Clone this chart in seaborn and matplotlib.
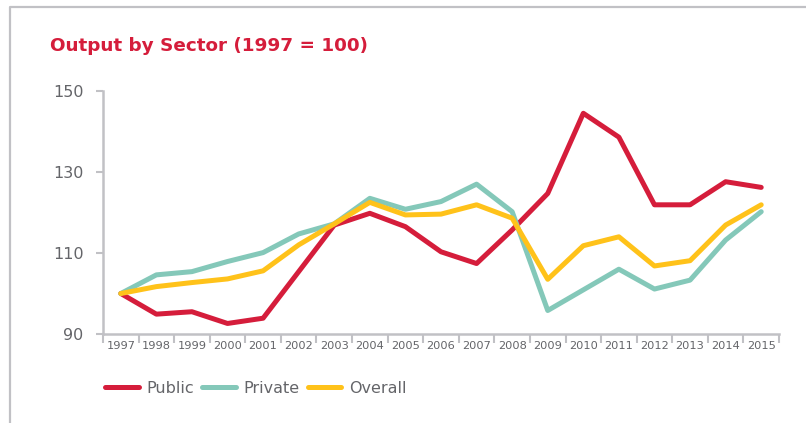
import numpy as np
import pandas as pd
import matplotlib
matplotlib.use("Agg")
import matplotlib.pyplot as plt
import seaborn as sns
from matplotlib.lines import Line2D
from matplotlib.ticker import FixedLocator, NullFormatter

# data (1997 = 100)
years = [1997, 1998, 1999, 2000, 2001, 2002, 2003, 2004, 2005, 2006,
         2007, 2008, 2009, 2010, 2011, 2012, 2013, 2014, 2015]
public = [100, 94.9, 95.5, 92.6, 93.9, 105.4, 116.9, 119.8, 116.5, 110.3,
          107.4, 115.7, 124.7, 144.5, 138.6, 121.9, 121.9, 127.6, 126.2]
private = [100, 104.6, 105.4, 107.9, 110.1, 114.7, 117.2, 123.5, 120.8, 122.7,
           127.0, 120.2, 95.8, 100.9, 106.0, 101.1, 103.3, 113.2, 120.2]
overall = [100, 101.7, 102.7, 103.6, 105.6, 112.0, 117.2, 122.5, 119.4, 119.6,
           121.9, 118.6, 103.5, 111.8, 114.0, 106.8, 108.1, 116.9, 121.9]
series_names = ["Public", "Private", "Overall"]
yticks = [90, 110, 130, 150]

df = pd.DataFrame({
    "idx": list(range(len(years))) * 3,
    "value": public + private + overall,
    "series": [s for s in series_names for _ in years],
})

RED = "#D51D3B"
TEAL = "#84C8B9"
YELLOW = "#FFC21A"
AXGRAY = "#C1C1C5"
TXTGRAY = "#646569"

sns.set_style("white")
plt.rcParams["font.family"] = ["DejaVu Sans"]

fig = plt.figure(figsize=(8.06, 4.23), dpi=100)
ax = fig.add_axes([103 / 806, 1 - 334 / 423, (779 - 103) / 806, (334 - 91) / 423])

sns.lineplot(data=df, x="idx", y="value", hue="series", palette=[RED, TEAL, YELLOW],
             linewidth=3.6, ax=ax, legend=False, solid_capstyle="round")

ax.set_xlim(-0.5, len(years) - 0.5)
ax.set_ylim(90, 150)
ax.set_xlabel("")
ax.set_ylabel("")

# y axis
ax.set_yticks(yticks)
ax.set_yticklabels([str(t) for t in yticks])
ax.tick_params(axis="y", left=True, direction="out", length=5, width=1.5, color=AXGRAY,
               pad=9, labelsize=11.5, labelcolor=TXTGRAY)

# x axis: ticks on category boundaries, labels centred
ax.xaxis.set_major_locator(FixedLocator(np.arange(-0.5, len(years), 1.0)))
ax.xaxis.set_major_formatter(NullFormatter())
ax.xaxis.set_minor_locator(FixedLocator(np.arange(len(years))))
ax.set_xticklabels([str(y) for y in years], minor=True)
ax.tick_params(axis="x", which="major", bottom=True, direction="out", length=6.5,
               width=1.5, color=AXGRAY)
ax.tick_params(axis="x", which="minor", bottom=True, length=0, pad=5, labelsize=8.2,
               labelcolor=TXTGRAY)

for side in ["top", "right"]:
    ax.spines[side].set_visible(False)
for side in ["left", "bottom"]:
    ax.spines[side].set_color(AXGRAY)
    ax.spines[side].set_linewidth(1.8)

# title
fig.text(50 / 806, 1 - 46 / 423, "Output by Sector (1997 = 100)", color=RED,
         fontsize=13.2, fontweight="bold", va="center", ha="left")

# legend
handles = [Line2D([0], [0], color=c, linewidth=3.6, solid_capstyle="round")
           for c in [RED, TEAL, YELLOW]]
leg = fig.legend(handles, series_names, loc="center left",
                 bbox_to_anchor=(105 / 806, 1 - 388 / 423), ncol=3, frameon=False,
                 fontsize=11.5, handlelength=2.1, handletextpad=0.5,
                 columnspacing=0.5, borderaxespad=0, borderpad=0)
for t in leg.get_texts():
    t.set_color(TXTGRAY)

# outer frame lines
fig.add_artist(Line2D([10 / 806, 10 / 806, 1.0], [0, 1 - 7.5 / 423, 1 - 7.5 / 423],
                      transform=fig.transFigure, color=AXGRAY, linewidth=1.6))

fig.savefig("out.png", dpi=100, facecolor="white")
